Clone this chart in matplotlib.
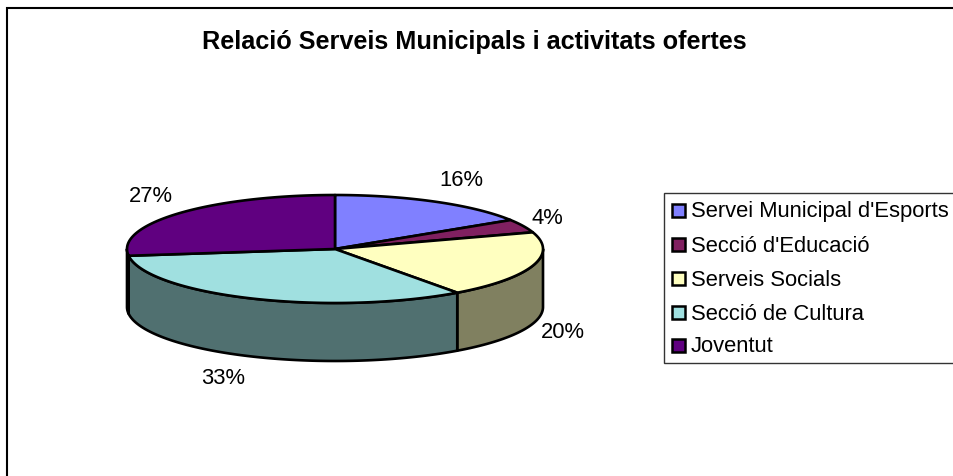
import numpy as np
import matplotlib
matplotlib.use("Agg")
import matplotlib.pyplot as plt
from matplotlib.patches import Polygon, Rectangle

plt.rcParams['font.family'] = ['Liberation Sans', 'DejaVu Sans']

title = "Relació Serveis Municipals i activitats ofertes"
categories = ["Servei Municipal d'Esports", "Secció d'Educació", "Serveis Socials", "Secció de Cultura", "Joventut"]
values = [16, 4, 20, 33, 27]
top_colors = ["#8080FF", "#802060", "#FFFFC0", "#A0E0E0", "#600080"]
side_colors = ["#404080", "#401030", "#808060", "#507070", "#300040"]

# layout in pixel units
W, H = 954, 476
cx, cy, rx, ry, depth = 335, 249, 208, 54, 58
label_pos = [(461, 181), (547, 218), (563, 332), (223, 378), (151, 196)]
legend_y = [211, 245, 279, 313, 346]
legend_text_dy = [0, 1, 1, 1, 1]

fig = plt.figure(figsize=(W / 100, H / 100), dpi=100, facecolor="white")
ax = fig.add_axes([0, 0, 1, 1])
ax.set_xlim(0, W)
ax.set_ylim(H, 0)
ax.axis("off")

LW = 1.9

def rim(a0, a1, dy=0.0):
    t = np.linspace(a0, a1, 120)
    return np.column_stack([cx + rx * np.sin(t), cy - ry * np.cos(t) + dy])

# chart frame
ax.plot([7, 7, W], [H, 8, 8], color="black", lw=1.5, solid_capstyle="butt", solid_joinstyle="miter", zorder=1)

fracs = np.array(values, dtype=float) / sum(values)
edges = np.concatenate([[0], np.cumsum(fracs)]) * 2 * np.pi

# visible outer wall (front half of the ellipse)
for i in range(len(values)):
    a0, a1 = max(edges[i], np.pi / 2), min(edges[i + 1], 1.5 * np.pi)
    if a1 > a0:
        upper = rim(a0, a1)
        lower = rim(a0, a1, depth)[::-1]
        ax.add_patch(Polygon(np.vstack([upper, lower]), closed=True, fc=side_colors[i],
                             ec="black", lw=LW, joinstyle="round", zorder=2))

# top surface
for i in range(len(values)):
    pts = np.vstack([[cx, cy], rim(edges[i], edges[i + 1])])
    ax.add_patch(Polygon(pts, closed=True, fc=top_colors[i], ec="black", lw=LW,
                         joinstyle="round", zorder=3))

# percentage labels
for v, (x, y) in zip(values, label_pos):
    ax.text(x, y, f"{v}%", ha="center", va="center", fontsize=15.8, color="black", zorder=4)

ax.text(474, 42, title, ha="center", va="center", fontsize=18.2, fontweight="bold", color="black", zorder=4)

# legend
ax.plot([W, 664, 664, W], [193, 193, 363, 363], color="#333333", lw=1.0,
        solid_joinstyle="miter", zorder=1)
for name, c, y, dy in zip(categories, top_colors, legend_y, legend_text_dy):
    ax.add_patch(Rectangle((672, y - 7), 13, 13, fc=c, ec="black", lw=1.8, zorder=3))
    ax.text(691, y + dy, name, ha="left", va="center", fontsize=15.8, color="black", zorder=4)

fig.savefig("out.png", dpi=100, facecolor="white")
